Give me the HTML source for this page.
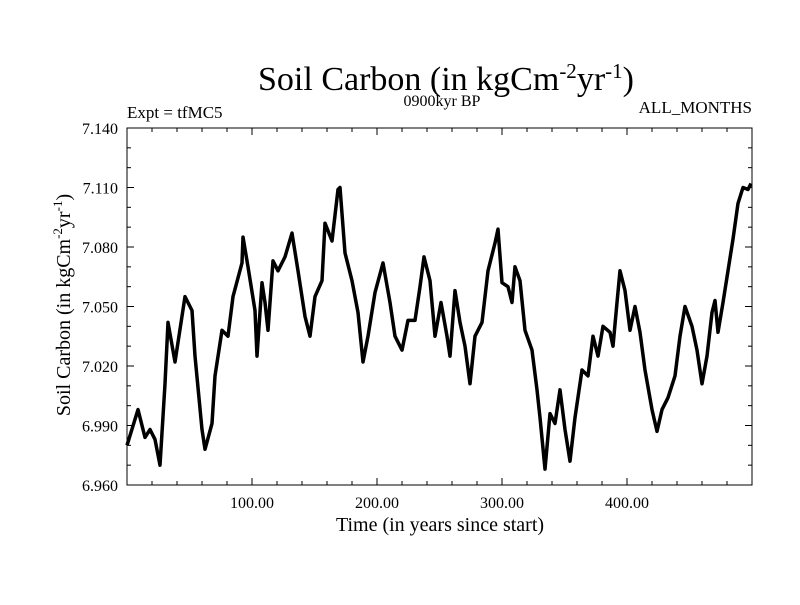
<!DOCTYPE html>
<html><head><meta charset="utf-8"><style>
body{margin:0;background:#fff;}
svg text{font-family:"Liberation Serif",serif;fill:#000;}
</style></head><body>
<svg id="chart" width="800" height="600">
<text x="446" y="90" font-size="34" text-anchor="middle">Soil Carbon (in kgCm<tspan dy="-12" font-size="21">-2</tspan><tspan dy="12">yr</tspan><tspan dy="-12" font-size="21">-1</tspan><tspan dy="12">)</tspan></text>
<text x="442" y="106" font-size="16" text-anchor="middle">0900kyr BP</text>
<text x="127" y="118" font-size="17">Expt = tfMC5</text>
<text x="752" y="113" font-size="17" text-anchor="end">ALL_MONTHS</text>
<text x="440" y="531" font-size="20" text-anchor="middle">Time (in years since start)</text>
<text transform="translate(70,305) rotate(-90)" font-size="20" text-anchor="middle">Soil Carbon (in kgCm<tspan dy="-8" font-size="13">-2</tspan><tspan dy="8">yr</tspan><tspan dy="-8" font-size="13">-1</tspan><tspan dy="8">)</tspan></text>
<g id="axes"></g>
<path id="series" fill="none" stroke="#000" stroke-width="3.5" stroke-linejoin="round"></path>
<rect x="127" y="128" width="625" height="357" fill="none" stroke="#000" stroke-width="1"></rect>
</svg>
<script>
const years=[0,8.8,14.4,18.4,22.4,26.4,30.4,32.8,38.4,46.4,52,54.4,60,62.4,68,70.4,76,80.8,84.8,92,92.8,96.8,102.4,104,108,110.4,112.8,116.8,120.8,126.4,132,136.8,142.4,146.4,150.4,156,158.4,164,168.8,170.4,174.4,180,184.8,188.8,192.8,198.4,204.8,210.4,214.4,220,224.8,230.4,234.4,237.6,242.4,246.4,251.2,256,258.4,262.4,266.4,270.4,274.4,278.4,284,288.8,294.4,296.8,300,304.8,308,310.4,314.4,318.4,324,328,330.4,334.4,338.4,342.4,346.4,350.4,354.4,358.4,364,368.8,372.8,376.8,380.8,386.4,388.8,392,394.4,398.4,402.4,406.4,410.4,414.4,420,424,428,432.8,438.4,442.4,446.4,452,456,460,464,468,470.4,472.8,476.8,480.8,484.8,488.8,492.8,496.8,499.2];
const carbon=[6.980,6.998,6.984,6.988,6.983,6.970,7.011,7.042,7.022,7.055,7.048,7.025,6.988,6.978,6.991,7.015,7.038,7.035,7.055,7.072,7.085,7.070,7.048,7.025,7.062,7.052,7.038,7.073,7.068,7.075,7.087,7.068,7.045,7.035,7.055,7.063,7.092,7.083,7.109,7.110,7.077,7.063,7.047,7.022,7.035,7.057,7.072,7.052,7.035,7.028,7.043,7.043,7.060,7.075,7.063,7.035,7.052,7.035,7.025,7.058,7.042,7.030,7.011,7.035,7.042,7.068,7.082,7.089,7.062,7.060,7.052,7.070,7.063,7.038,7.028,7.008,6.994,6.968,6.996,6.991,7.008,6.988,6.972,6.994,7.018,7.015,7.035,7.025,7.040,7.037,7.030,7.052,7.068,7.058,7.038,7.050,7.037,7.018,6.998,6.987,6.998,7.004,7.015,7.035,7.050,7.040,7.028,7.011,7.025,7.047,7.053,7.037,7.052,7.068,7.084,7.102,7.110,7.109,7.112];
const xTickValues=[100,200,300,400];
const xTickLabels=["100.00","200.00","300.00","400.00"];
const yTickValues=[6.96,6.99,7.02,7.05,7.08,7.11,7.14];
const yTickLabels=["6.960","6.990","7.020","7.050","7.080","7.110","7.140"];
const X0=127,X1=752,Y0=485,Y1=128,xMin=0,xMax=500,yMin=6.96,yMax=7.14;
function xs(v){return X0+(v-xMin)/(xMax-xMin)*(X1-X0);}
function ys(v){return Y0-(v-yMin)/(yMax-yMin)*(Y0-Y1);}
const NS="http://www.w3.org/2000/svg";
const axes=document.getElementById('axes');
function mk(tag,attrs){const e=document.createElementNS(NS,tag);for(const k in attrs)e.setAttribute(k,attrs[k]);axes.appendChild(e);return e;}
for(let v=20;v<500;v+=20){
  const major=v%100===0;const L=major?7:4;const x=xs(v);
  const t1=mk('line',{x1:x,x2:x,y1:Y0,y2:Y0-L,stroke:'#000'});
  
  
  const t2=mk('line',{x1:x,x2:x,y1:Y1,y2:Y1+L,stroke:'#000'});
  
  
}
xTickValues.forEach((v,i)=>{
  const t=mk('text',{x:xs(v),y:508,'font-size':16,'text-anchor':'middle'});
  t.textContent=xTickLabels[i];
  
  
});
for(let k=1;k<18;k++){
  const v=yMin+k*0.01;const major=k%3===0;const L=major?7:4;const y=ys(v);
  const t1=mk('line',{x1:X0,x2:X0+L,y1:y,y2:y,stroke:'#000'});
  
  
  const t2=mk('line',{x1:X1,x2:X1-L,y1:y,y2:y,stroke:'#000'});
  
  
}
yTickValues.forEach((v,i)=>{
  const t=mk('text',{x:118,y:ys(v)+6,'font-size':16,'text-anchor':'end'});
  t.textContent=yTickLabels[i];
  
  
});
let d='';
years.forEach((yr,i)=>{d+=(i?'L':'M')+xs(yr).toFixed(1)+','+ys(carbon[i]).toFixed(1);});
document.getElementById('series').setAttribute('d',d);
</script>
</body></html>
